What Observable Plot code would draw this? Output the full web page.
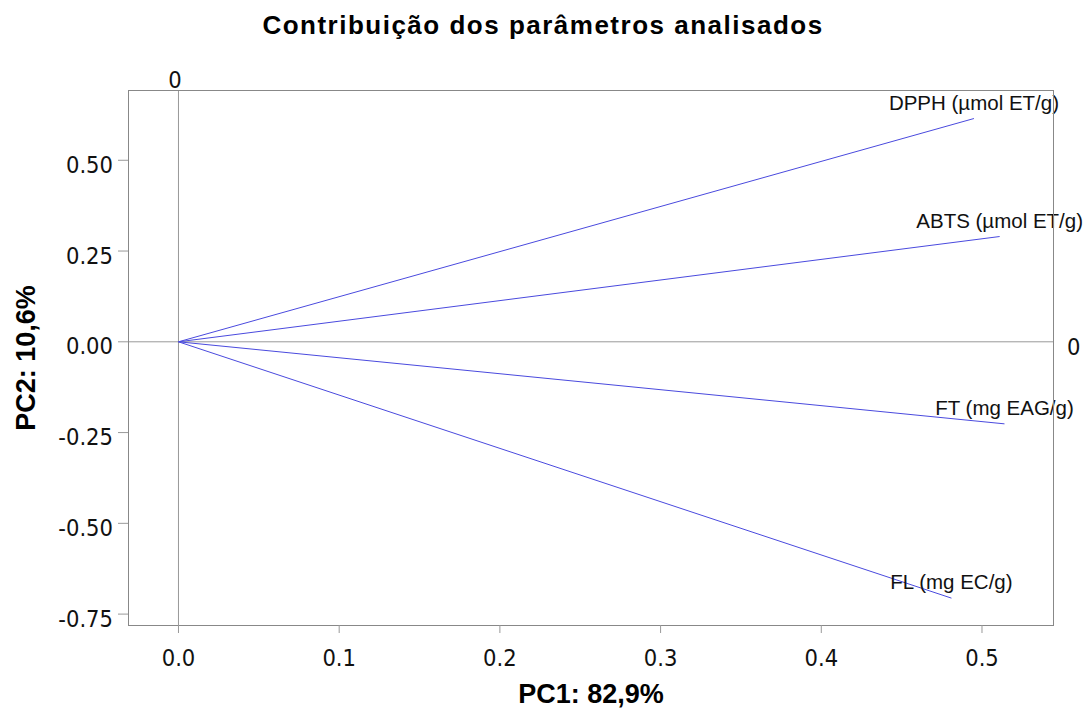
<!DOCTYPE html>
<html>
<head>
<meta charset="utf-8">
<script src="https://cdn.jsdelivr.net/npm/d3@7"></script>
<script src="https://cdn.jsdelivr.net/npm/@observablehq/plot@0.6"></script>
<style>
  body { margin: 0; background: #fff; }
  #title {
    height: 50px; box-sizing: border-box; padding-top: 12px;
    line-height: 26px; font-family: "Liberation Sans", Arial, sans-serif;
    font-weight: bold; font-size: 26px; letter-spacing: 1.5px;
    text-align: center; color: #000; width: 1086px;
  }
</style>
</head>
<body>
<div id="title"></div>
<div id="chart"></div>
<script>
const title = "Contribuição dos parâmetros analisados";
const params = ["DPPH (µmol ET/g)", "ABTS (µmol ET/g)", "FT (mg EAG/g)", "FL (mg EC/g)"];
const pc1 = [0.495, 0.511, 0.514, 0.481];
const pc2 = [0.615, 0.290, -0.226, -0.706];
const xTicks = [0, 0.1, 0.2, 0.3, 0.4, 0.5];
const yTicks = [-0.75, -0.5, -0.25, 0, 0.25, 0.5];
const xLabel = "PC1: 82,9%";
const yLabel = "PC2: 10,6%";
const zeroLabel = ["0"];

document.getElementById("title").textContent = title;

const data = params.map((p, i) => ({p, x: pc1[i], y: pc2[i]}));
const tickFont = '"DejaVu Sans Condensed", "DejaVu Sans", sans-serif';
const labelFont = '"Liberation Sans", Arial, sans-serif';
const fmtY = d => d3.format(".2f")(d).replace("\u2212", "-");

const chart = Plot.plot({
  width: 1086,
  height: 658,
  marginTop: 40,
  marginBottom: 83,
  marginLeft: 128,
  marginRight: 33,
  x: {domain: [-0.0311, 0.5445]},
  y: {domain: [-0.7814, 0.6922]},
  style: {background: "#fff", color: "#111"},
  marks: [
    Plot.ruleX([0], {stroke: "#999"}),
    Plot.ruleY([0], {stroke: "#999"}),
    Plot.link(data, {x1: 0, y1: 0, x2: "x", y2: "y", stroke: "#4a4ade", strokeWidth: 1}),
    Plot.text(data, {x: "x", y: "y", text: "p", dy: -9, lineAnchor: "bottom", textAnchor: "middle",
      fontSize: 20.5, fontFamily: labelFont, fill: "#111", ariaLabel: "vlabels"}),
    Plot.frame({stroke: "#888"}),
    Plot.axisY({ticks: yTicks, tickSize: 10, tickFormat: () => "", stroke: "#999", label: null}),
    Plot.axisY({ticks: yTicks, tickSize: 0, tickPadding: 15.5, tickFormat: fmtY, dy: 5,
      fontSize: 23.5, fontFamily: tickFont, fill: "#111", label: null}),
    Plot.axisX({ticks: xTicks, tickSize: 8, tickPadding: 15.5, tickFormat: d3.format(".1f"),
      fontSize: 23.5, fontFamily: tickFont, fill: "#111", stroke: "#999", label: null}),
    Plot.text(zeroLabel, {x: () => 0, text: d => d, frameAnchor: "top", lineAnchor: "bottom",
      dy: -3, dx: -3.5, fontSize: 23.5, fontFamily: tickFont, fill: "#111"}),
    Plot.text(zeroLabel, {y: () => 0, text: d => d, frameAnchor: "right", textAnchor: "start",
      dx: 13.4, dy: 6, fontSize: 23.5, fontFamily: tickFont, fill: "#111"}),
    Plot.text([xLabel], {text: d => d, frameAnchor: "bottom", lineAnchor: "bottom", textAnchor: "middle",
      dy: 77.5, fontSize: 27, fontWeight: "bold", fontFamily: labelFont, fill: "#000"}),
    Plot.text([yLabel], {text: d => d, frameAnchor: "left", textAnchor: "middle", lineAnchor: "middle",
      rotate: -90, dx: -102, fontSize: 27, fontWeight: "bold", fontFamily: labelFont, fill: "#000"})
  ]
});
document.getElementById("chart").appendChild(chart);
const g = chart.querySelector('g[aria-label="vlabels"]');
if (g) g.style.letterSpacing = "-0.4px";
</script>
</body>
</html>
